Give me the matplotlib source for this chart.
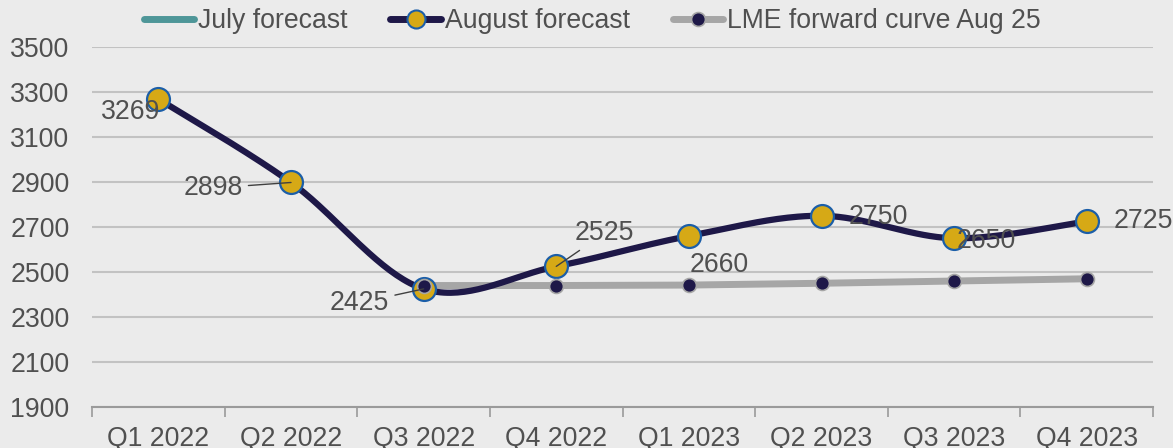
import numpy as np
import matplotlib
matplotlib.use("Agg")
import matplotlib.pyplot as plt
from matplotlib.lines import Line2D

plt.rcParams['font.family'] = ['Liberation Sans', 'DejaVu Sans']

quarters = ["Q1 2022", "Q2 2022", "Q3 2022", "Q4 2022",
            "Q1 2023", "Q2 2023", "Q3 2023", "Q4 2023"]
august_forecast = [3269, 2898, 2425, 2525, 2660, 2750, 2650, 2725]
lme_quarters = ["Q3 2022", "Q4 2022", "Q1 2023", "Q2 2023", "Q3 2023", "Q4 2023"]
lme_forward = [2440, 2440, 2442, 2450, 2460, 2470]
y_ticks = [1900, 2100, 2300, 2500, 2700, 2900, 3100, 3300, 3500]

BG = "#ebebeb"
NAVY = "#1e1848"
GOLD = "#d6a916"
EDGE = "#1b5ea8"
GREY_LINE = "#a6a6a6"
TEAL = "#4e9698"
TEXT = "#505050"
FS = 19.2


def smooth_curve(x, y, n=40):
    """Bezier smoothing through every point (control points at 1/6 of neighbour span)."""
    x = np.asarray(x, float)
    y = np.asarray(y, float)
    px, py = [], []
    for i in range(len(x) - 1):
        x0, y0 = (x[i - 1], y[i - 1]) if i > 0 else (x[i], y[i])
        x3, y3 = (x[i + 2], y[i + 2]) if i + 2 < len(x) else (x[i + 1], y[i + 1])
        c1 = (x[i] + (x[i + 1] - x0) / 6, y[i] + (y[i + 1] - y0) / 6)
        c2 = (x[i + 1] - (x3 - x[i]) / 6, y[i + 1] - (y3 - y[i]) / 6)
        t = np.linspace(0, 1, n)
        bx = ((1 - t) ** 3 * x[i] + 3 * (1 - t) ** 2 * t * c1[0]
              + 3 * (1 - t) * t ** 2 * c2[0] + t ** 3 * x[i + 1])
        by = ((1 - t) ** 3 * y[i] + 3 * (1 - t) ** 2 * t * c1[1]
              + 3 * (1 - t) * t ** 2 * c2[1] + t ** 3 * y[i + 1])
        px.extend(bx)
        py.extend(by)
    return np.array(px), np.array(py)


fig = plt.figure(figsize=(11.73, 4.48), dpi=100, facecolor=BG)
ax = fig.add_axes([0.0785, 0.0915, 0.9045, 0.8035], facecolor=BG)

xa = np.arange(len(quarters))
xl = np.array([quarters.index(q) for q in lme_quarters])

# LME forward curve
ax.plot(xl, lme_forward, color=GREY_LINE, lw=5, zorder=2, solid_capstyle='round')
ax.plot(xl, lme_forward, ls='none', marker='o', ms=10, mfc=NAVY, mec=GREY_LINE,
        mew=1.2, zorder=5)

# August forecast (smoothed)
sx, sy = smooth_curve(xa, august_forecast)
ax.plot(sx, sy, color=NAVY, lw=4.5, zorder=3, solid_capstyle='round')
ax.plot(xa, august_forecast, ls='none', marker='o', ms=16.5, mfc=GOLD, mec=EDGE,
        mew=1.6, zorder=4)

# Data labels: (dx, dy) offsets in points, optional leader line
label_specs = [
    ((-20, -9), False),
    ((-56, -4), True),
    ((-46, -10), True),
    ((35, 24), True),
    ((22, -21), False),
    ((41, -1), False),
    ((23, -2), False),
    ((41, 0), False),
]
for i, (v, (off, leader)) in enumerate(zip(august_forecast, label_specs)):
    kw = dict(textcoords='offset points', ha='center', va='center',
              fontsize=FS, color=TEXT, zorder=6)
    if leader:
        kw['arrowprops'] = dict(arrowstyle='-', color="#404040", lw=1,
                                shrinkA=2, shrinkB=0)
    ax.annotate(str(v), xy=(xa[i], v), xytext=off, **kw)

# Axes styling
ax.set_xlim(-0.5, len(quarters) - 0.5)
ax.set_ylim(y_ticks[0], y_ticks[-1])
ax.set_yticks(y_ticks)
ax.set_xticks(xa)
ax.set_xticklabels(quarters)
ax.set_xticks(np.arange(-0.5, len(quarters)), minor=True)
ax.tick_params(axis='x', which='major', length=0, pad=14, labelsize=FS, labelcolor=TEXT)
ax.tick_params(axis='x', which='minor', length=7, width=1.2, color="#9a9a9a", direction='out')
ax.tick_params(axis='y', length=0, pad=59, labelsize=FS, labelcolor=TEXT)
for lbl in ax.get_yticklabels():
    lbl.set_horizontalalignment('left')
ax.grid(axis='y', color="#c2c2c2", lw=1.5, zorder=0)
ax.set_axisbelow(True)
for s in ['top', 'right', 'left']:
    ax.spines[s].set_visible(False)
ax.spines['bottom'].set_color("#9a9a9a")
ax.spines['bottom'].set_linewidth(1.5)

# Legend
handles = [
    Line2D([], [], color=TEAL, lw=5, solid_capstyle='round'),
    Line2D([], [], color=NAVY, lw=5, marker='o', ms=13, mfc=GOLD, mec=EDGE, mew=1.5,
           solid_capstyle='round'),
    Line2D([], [], color=GREY_LINE, lw=5, marker='o', ms=10, mfc=NAVY, mec=GREY_LINE,
           mew=1.2, solid_capstyle='round'),
]
labels = ["July forecast", "August forecast", "LME forward curve Aug 25"]
fig.legend(handles, labels, loc='center', bbox_to_anchor=(0.505, 0.953), ncol=3,
           frameon=False, fontsize=FS, labelcolor=TEXT, handlelength=1.9,
           handletextpad=0.15, columnspacing=1.6)

fig.savefig("out.png", dpi=100, facecolor=BG)
